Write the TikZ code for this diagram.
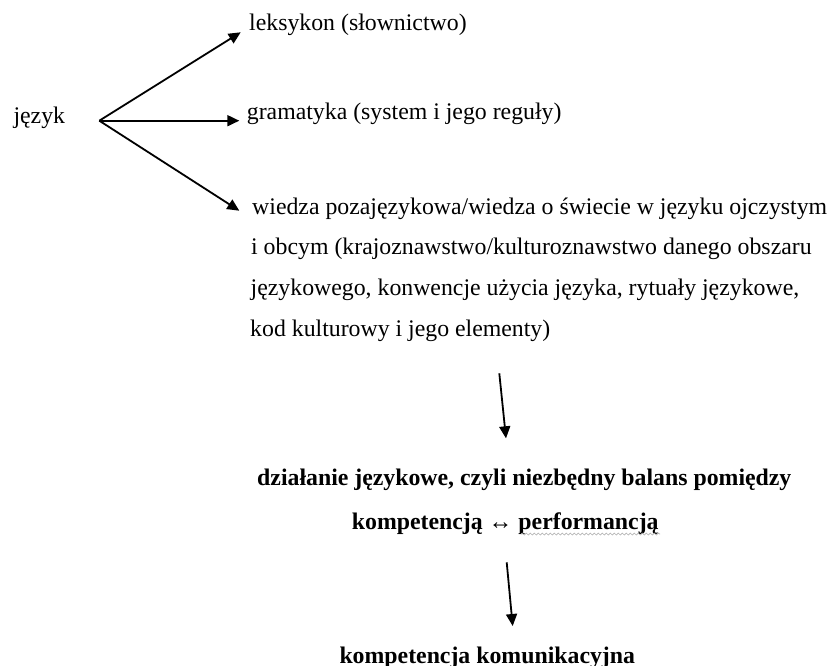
\documentclass[tikz,border=0pt]{standalone}
\usepackage{fontspec}
\setmainfont{Liberation Serif}
\usetikzlibrary{arrows.meta,decorations.pathmorphing}
\begin{document}
\begin{tikzpicture}[x=1pt,y=1pt,
  txt/.style={anchor=base west,inner sep=0pt,font=\fontsize{23.8}{28}\selectfont},
  btxt/.style={txt,font=\fontsize{23.8}{28}\selectfont\bfseries},
  conn/.style={line width=1.8pt,-{Triangle[length=12pt,width=11pt]}},
  squiggle/.style={gray!60,line width=0.7pt,decorate,decoration={snake,amplitude=1pt,segment length=4pt}}]
\useasboundingbox (0,0) rectangle (830,-666);
\node[txt] (jez) at (13.3,-123.3) {język};
\node[txt] (lek) at (249,-31) {leksykon (słownictwo)};
\node[txt] (gra) at (246.7,-119.3) {gramatyka (system i jego reguły)};
\node[txt] (p1) at (252,-214) {wiedza pozajęzykowa/wiedza o świecie w języku ojczystym};
\node[txt] (p2) at (251,-254.5) {i obcym (krajoznawstwo/kulturoznawstwo danego obszaru};
\node[txt] (p3) at (250.5,-295) {językowego, konwencje użycia języka, rytuały językowe,};
\node[txt] (p4) at (250,-336) {kod kulturowy i jego elementy)};
\node[btxt] (d1) at (257,-485.7) {działanie językowe, czyli niezbędny balans pomiędzy};
\node[btxt] (d2) at (351.7,-529.3) {kompetencją ↔ performancją};
\node[btxt] (kk) at (339.3,-663) {kompetencja komunikacyjna};
\coordinate (hub) at (99.3,-120.7);
\coordinate (t1) at (240.7,-32.3);
\coordinate (t2) at (239.3,-120.7);
\coordinate (t3) at (239.3,-210.7);
\coordinate (s4) at (499.3,-373.3);
\coordinate (t4) at (506,-438.3);
\coordinate (s5) at (506.7,-562.3);
\coordinate (t5) at (512.7,-626);
\draw[conn] (hub) -- (t1);
\draw[conn] (hub) -- (t2);
\draw[conn] (hub) -- (t3);
\draw[conn] (s4) -- (t4);
\draw[conn] (s5) -- (t5);
\coordinate (u1) at (521,-534);
\coordinate (u2) at (660,-534);
\draw[squiggle] (u1) -- (u2);
\end{tikzpicture}
\end{document}
